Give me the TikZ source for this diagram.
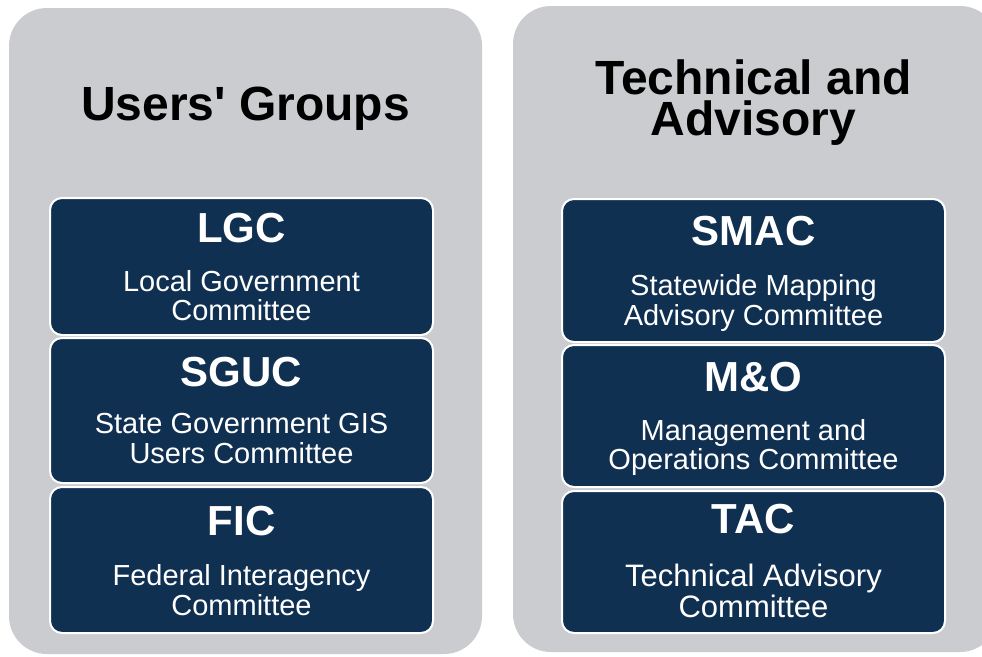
\documentclass[tikz,border=0pt]{standalone}
\usepackage{fontspec}
\setmainfont{Liberation Sans}
\definecolor{panelgray}{RGB}{203,204,208}
\definecolor{navy}{RGB}{16,48,82}

\begin{document}
\begin{tikzpicture}[x=1pt,y=-1pt,
  panel/.style={fill=panelgray, rounded corners=38pt},
  unit/.style={draw=white, line width=2pt, fill=navy, rounded corners=12pt,
    inner sep=0pt, minimum width=383pt},
  heading/.style={font=\fontsize{48}{41}\selectfont\bfseries, text=black,
    anchor=base, inner sep=0pt, align=center},
  acro/.style={font=\fontsize{42}{42}\selectfont\bfseries, text=white,
    anchor=base, inner sep=0pt},
  desc/.style={font=\fontsize{29}{29}\selectfont, text=white,
    anchor=base, inner sep=0pt},
]
% page frame
\fill[white] (0,0) rectangle (982,656);
\clip (0,0) rectangle (982,656);

% grey panels
\path[panel] (9,8) rectangle (482,654);
\path[panel] (513,6) rectangle (998,652);

% left column: users' groups
\node[heading] (ugtitle) at (245.5,120) {Users\textquotesingle{} Groups};

\node[unit, minimum height=137pt] (lgc) at (241.5,266.5) {};
\node[acro] (lgcname) at (241.5,242) {LGC};
\node[desc] (lgcd1) at (241.5,291) {Local Government};
\node[desc] (lgcd2) at (241.5,320) {Committee};

\node[unit, minimum height=145pt] (sguc) at (241.5,410.5) {};
\node[acro] (sgucname) at (241.5,386) {SGUC};
\node[desc] (sgucd1) at (241.5,433) {State Government GIS};
\node[desc] (sgucd2) at (241.5,463) {Users Committee};

\node[unit, minimum height=146pt] (fic) at (241.5,560) {};
\node[acro] (ficname) at (241.5,535) {FIC};
\node[desc] (ficd1) at (241.5,585) {Federal Interagency};
\node[desc] (ficd2) at (241.5,615) {Committee};

% right column: technical and advisory (base anchor sits on the last line)
\node[heading] (tatitle) at (753.5,135) {Technical and\\Advisory};

\node[unit, minimum height=143pt] (smac) at (753.5,270.5) {};
\node[acro] (smacname) at (753.5,245) {SMAC};
\node[desc] (smacd1) at (753.5,295) {Statewide Mapping};
\node[desc] (smacd2) at (753.5,325) {Advisory Committee};

\node[unit, minimum height=142pt] (mo) at (753.5,416) {};
\node[acro] (moname) at (753.5,391) {M\&O};
\node[desc] (mod1) at (753.5,440) {Management and};
\node[desc] (mod2) at (753.5,469) {Operations Committee};

\node[unit, minimum height=142pt] (tac) at (753.5,562) {};
\node[acro] (tacname) at (753.5,533) {TAC};
\node[desc, font=\fontsize{31}{31}\selectfont] (tacd1) at (753.5,586) {Technical Advisory};
\node[desc, font=\fontsize{31}{31}\selectfont] (tacd2) at (753.5,617) {Committee};
\end{tikzpicture}
\end{document}
